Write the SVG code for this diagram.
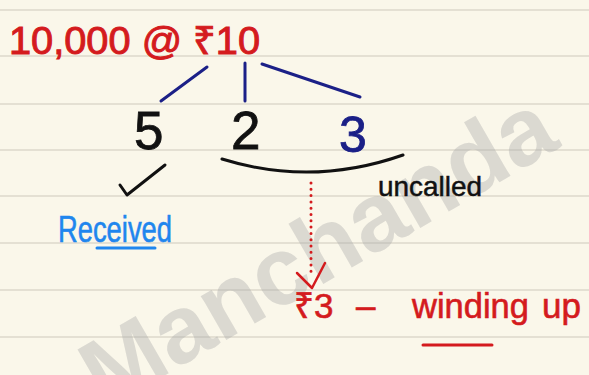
<svg xmlns="http://www.w3.org/2000/svg" width="589" height="375" viewBox="0 0 589 375">
<style>
.rule{stroke:#e4e0d3;stroke-width:2.2}
.t{font-family:"Liberation Sans","Noto Sans","DejaVu Sans",sans-serif}
.red{fill:#d41b1e}
.ink{stroke-linecap:round;stroke-linejoin:round;fill:none}
</style>
<rect width="589" height="375" fill="#faf7ea"/>
<g id="paper">
<line class="rule" x1="0" y1="10" x2="589" y2="10"/>
<line class="rule" x1="0" y1="56" x2="589" y2="56"/>
<line class="rule" x1="0" y1="104" x2="589" y2="104"/>
<line class="rule" x1="0" y1="150" x2="589" y2="150"/>
<line class="rule" x1="0" y1="196" x2="589" y2="196"/>
<line class="rule" x1="0" y1="243" x2="589" y2="243"/>
<line class="rule" x1="0" y1="290" x2="589" y2="290"/>
<line class="rule" x1="0" y1="337" x2="589" y2="337"/>
</g>
<g id="watermark">
<text class="t" x="105" y="410" transform="rotate(-30 105 410)" font-size="96" font-weight="bold" fill="#a8a8a8" fill-opacity="0.38">Manchanda</text>
</g>
<g id="connectors">
<g class="ink" stroke="#1b2087" stroke-width="3">
<line x1="207" y1="67" x2="161" y2="101"/>
<line x1="245" y1="63" x2="245" y2="101"/>
<line x1="262" y1="64" x2="360" y2="97"/>
</g>
<path class="ink" d="M222 159 Q312 187 403 155" stroke="#111" stroke-width="3"/>
<line class="ink" x1="311" y1="183" x2="311" y2="276" stroke="#d41b1e" stroke-width="3" stroke-dasharray="0 6.3"/>
<path class="ink" d="M297 273 L312 288 L325 263" stroke="#d41b1e" stroke-width="2.5"/>
</g>
<g id="title">
<text class="t red" x="9" y="54" font-size="39" stroke="#d41b1e" stroke-width="1" textLength="251" lengthAdjust="spacingAndGlyphs">10,000 @ ₹10</text>
</g>
<g id="node-5">
<text class="t" x="134" y="149" font-size="53" fill="#111" stroke="#111" stroke-width="0.8">5</text>
</g>
<g id="node-2">
<text class="t" x="231" y="149" font-size="53" fill="#111" stroke="#111" stroke-width="0.8">2</text>
</g>
<g id="node-3">
<text class="t" x="339" y="152" font-size="50" fill="#1b2087" stroke="#1b2087" stroke-width="0.8">3</text>
</g>
<g id="received">
<path class="ink" d="M120 185 L127 195 L165 165" stroke="#111" stroke-width="3"/>
<text class="t" x="58" y="242" font-size="36" fill="#1f86ee" stroke="#1f86ee" stroke-width="0.6" textLength="114" lengthAdjust="spacingAndGlyphs">Received</text>
<line class="ink" x1="97" y1="248" x2="155" y2="248" stroke="#1f86ee" stroke-width="3"/>
</g>
<g id="uncalled">
<text class="t" x="378" y="196" font-size="28" fill="#111" stroke="#111" stroke-width="0.5" textLength="104" lengthAdjust="spacingAndGlyphs">uncalled</text>
</g>
<g id="winding-up">
<text class="t red" y="318" font-size="35" stroke="#d41b1e" stroke-width="0.6"><tspan x="294">₹3</tspan><tspan x="356">–</tspan><tspan x="412" textLength="117" lengthAdjust="spacingAndGlyphs">winding</tspan><tspan x="542">up</tspan></text>
<line class="ink" x1="423" y1="345" x2="492" y2="345" stroke="#d41b1e" stroke-width="3"/>
</g>
</svg>
